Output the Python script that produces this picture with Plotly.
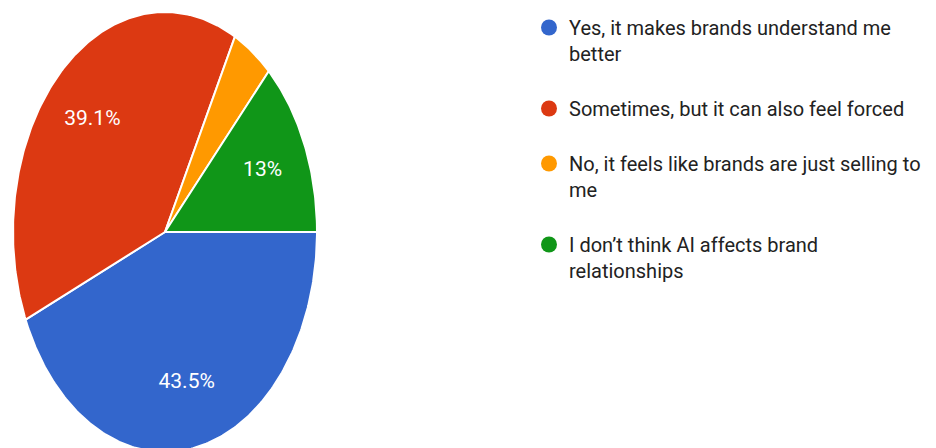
import numpy as np
import plotly.graph_objects as go

# ---- data ----
categories = [
    "Yes, it makes brands understand me<br>better",
    "Sometimes, but it can also feel forced",
    "No, it feels like brands are just selling to<br>me",
    "I don’t think AI affects brand<br>relationships",
]
counts = [10, 9, 1, 3]
colors = ["#3366cc", "#dc3912", "#ff9900", "#109618"]

# ---- geometry (pixel layout of the stretched pie) ----
W, H = 936, 448
OFF = 8                      # page body margin offset
cx_px, cy_px = 165 - OFF, 232 - OFF   # pie centre, from left / from top
rx_px, ry_px = 152, 220      # horizontal / vertical radius in px

x_range = [-cx_px / rx_px, (W - cx_px) / rx_px]
y_range = [-(H - cy_px) / ry_px, cy_px / ry_px]

total = sum(counts)
fracs = [c / total for c in counts]

fig = go.Figure()

a0 = 0.0  # start at 3 o'clock, go clockwise
label_x, label_y, label_t = [], [], []
for cat, frac, col in zip(categories, fracs, colors):
    a1 = a0 - 2 * np.pi * frac
    th = np.linspace(a0, a1, max(int(abs(a1 - a0) * 80), 4))
    xs = np.concatenate([[0], np.cos(th), [0]])
    ys = np.concatenate([[0], np.sin(th), [0]])
    fig.add_trace(go.Scatter(
        x=xs, y=ys, mode="lines", fill="toself", fillcolor=col,
        line=dict(color="white", width=2), showlegend=False,
        hoverinfo="skip",
    ))
    if frac >= 0.05:
        mid = (a0 + a1) / 2
        r = 0.70
        label_x.append(r * np.cos(mid))
        label_y.append(r * np.sin(mid))
        pct = f"{frac * 100:.1f}"
        if pct.endswith(".0"):
            pct = pct[:-2]
        label_t.append(pct + "%")
    a0 = a1

fig.add_trace(go.Scatter(
    x=label_x, y=label_y, mode="text", text=label_t,
    textfont=dict(color="white", size=21, family="Roboto"),
    showlegend=False, hoverinfo="skip",
))

# legend entries
for i, (cat, col) in enumerate(zip(categories, colors)):
    fig.add_trace(go.Scatter(
        x=[None], y=[None], mode="markers", name=cat,
        marker=dict(symbol="circle", size=16, color=col),
        legendgroup=f"g{i}", showlegend=True,
    ))

fig.update_layout(
    width=W, height=H,
    margin=dict(l=0, r=0, t=0, b=0, autoexpand=False),
    paper_bgcolor="white", plot_bgcolor="white",
    xaxis=dict(range=x_range, visible=False, fixedrange=True),
    yaxis=dict(range=y_range, visible=False, fixedrange=True),
    font=dict(family="Roboto", color="#222222"),
    showlegend=True,
    legend=dict(
        x=(529 - OFF) / W, xanchor="left", y=1, yanchor="top",
        font=dict(size=20, family="Roboto", color="#222222"),
        valign="top", tracegroupgap=26, itemsizing="trace",
        bgcolor="rgba(0,0,0,0)",
    ),
)

fig.write_html("out.html")
